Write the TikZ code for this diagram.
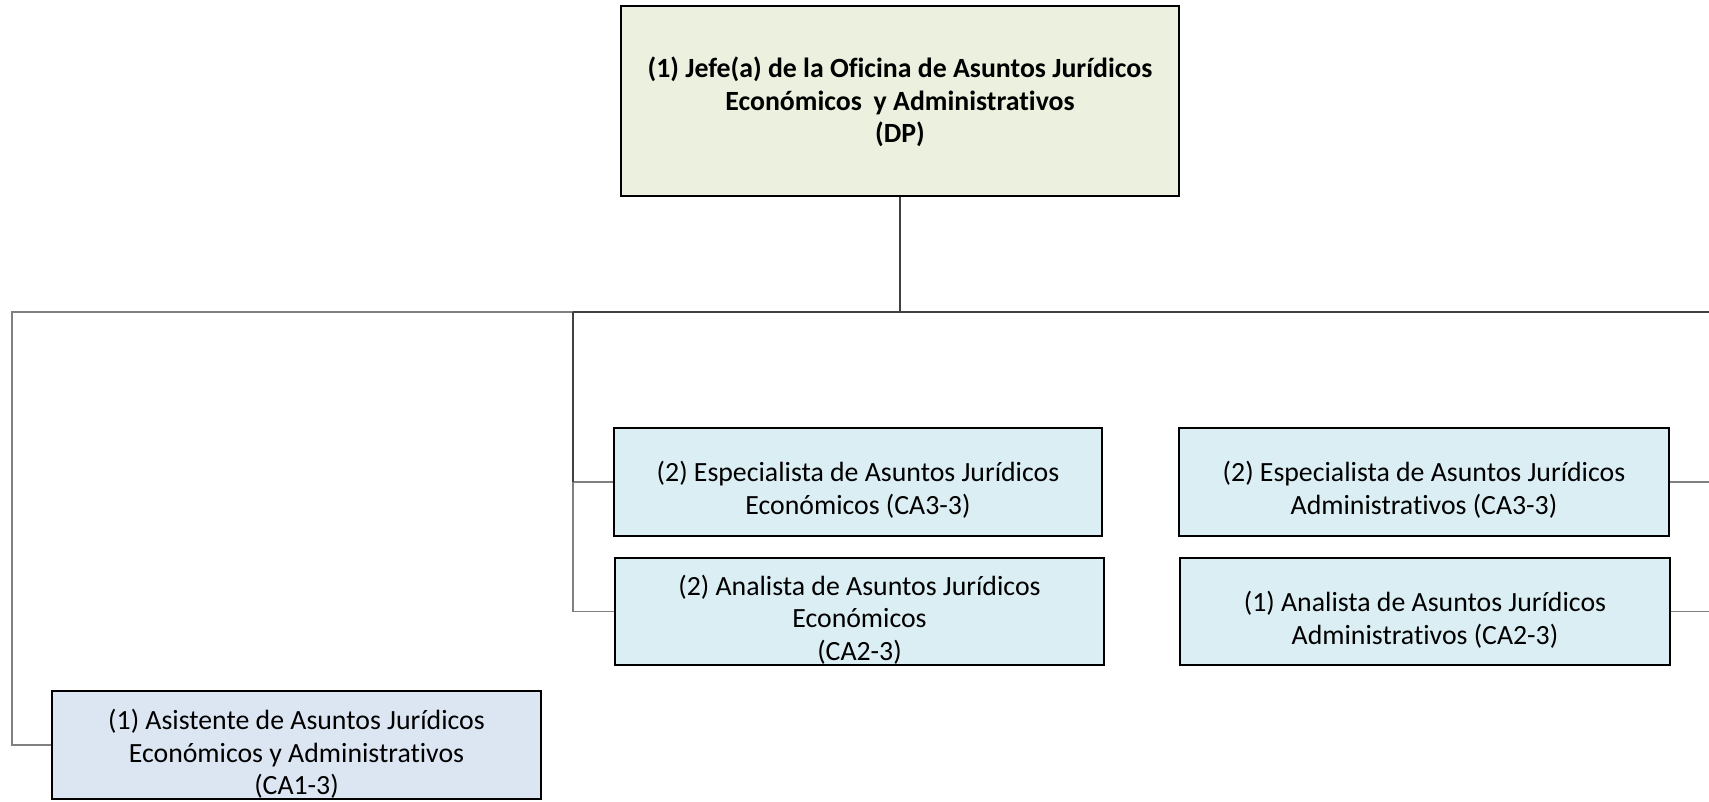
\documentclass[tikz,border=0pt]{standalone}
\usepackage{fontspec}
\setmainfont[Ligatures=NoCommon]{Carlito}
\newcommand\nolig{\kern0pt\relax}
\definecolor{jefefill}{HTML}{EBF1DE}
\definecolor{aquafill}{HTML}{DAEEF3}
\definecolor{bluefill}{HTML}{DCE6F2}
\begin{document}
\begin{tikzpicture}[x=1pt,y=-1pt,
  box/.style={draw=black, line width=2pt, inner sep=0pt},
  lbl/.style={align=center, inner sep=0pt, font=\fontsize{27.8}{32.7}\selectfont},
  mainline/.style={draw=black!75, line width=2pt},
  subline/.style={draw=black!50, line width=1.3pt}]
\useasboundingbox (0,0) rectangle (1709,801);
% boxes
\node[box, fill=jefefill, minimum width=558pt, minimum height=190pt] (jefe) at (900,101) {};
\node[box, fill=aquafill, minimum width=488pt, minimum height=108pt] (espE) at (858,482) {};
\node[box, fill=aquafill, minimum width=489pt, minimum height=107pt] (anaE) at (859.5,611.5) {};
\node[box, fill=aquafill, minimum width=490pt, minimum height=108pt] (espA) at (1424,482) {};
\node[box, fill=aquafill, minimum width=490pt, minimum height=107pt] (anaA) at (1425,611.5) {};
\node[box, fill=bluefill, minimum width=489pt, minimum height=108pt] (asis) at (296.5,745) {};
% connector points
\coordinate (hbL) at (12,312);
\coordinate (hbM) at (573,312);
\coordinate (hbR) at (1709,312);
\coordinate (edgeR) at (1709,482);
% connectors
\draw[subline] (hbM) -- (hbL) -- (hbL |- asis.west) -- (asis.west);
\draw[subline] (hbM |- espE.west) -- (espE.west);
\draw[subline] (hbM |- espE.west) -- (hbM |- anaE.west) -- (anaE.west);
\draw[mainline] (jefe.south) -- (jefe.south |- hbM);
\draw[mainline] (hbM) -- (hbR);
\draw[mainline] (hbM) -- (hbM |- espE.west);
\draw[subline] (espA.east) -- (espA.east -| edgeR);
\draw[subline] (anaA.east) -- (anaA.east -| edgeR);
% labels
\node[lbl] (jefeT) at (900,102) {\bfseries (1) Jefe(a) de la Of\nolig icina de Asuntos Jurídicos\\\bfseries Económicos\hspace{0.2em} y Administrat\nolig ivos\\\bfseries (DP)};
\node[lbl] (espET) at ([yshift=-8pt]espE.center) {(2) Especialista de Asuntos Jurídicos\\Económicos (CA3-3)};
\node[lbl] (anaET) at ([yshift=-8pt]anaE.center) {(2) Analista de Asuntos Jurídicos\\Económicos\\(CA2-3)};
\node[lbl] (espAT) at ([yshift=-8pt]espA.center) {(2) Especialista de Asuntos Jurídicos\\Administrat\nolig ivos (CA3-3)};
\node[lbl] (anaAT) at ([yshift=-8pt]anaA.center) {(1) Analista de Asuntos Jurídicos\\Administrat\nolig ivos (CA2-3)};
\node[lbl] (asisT) at ([yshift=-9pt]asis.center) {(1) Asistente de Asuntos Jurídicos\\Económicos y Administrat\nolig ivos\\(CA1-3)};
\end{tikzpicture}
\end{document}
